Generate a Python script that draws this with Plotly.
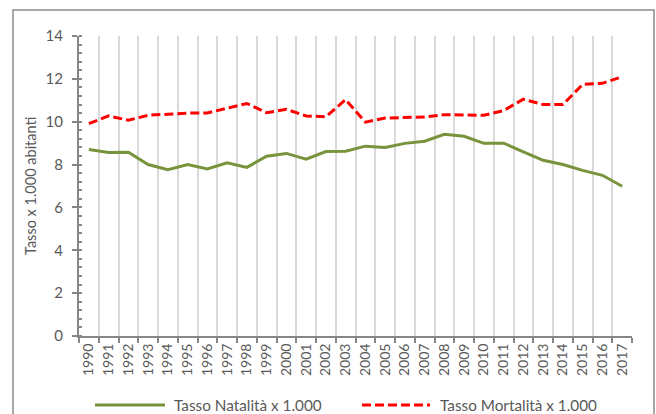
import plotly.graph_objects as go

years = [str(y) for y in range(1990, 2018)]
natalita = [8.70, 8.56, 8.58, 8.00, 7.76, 8.00, 7.80, 8.08, 7.87, 8.39, 8.52, 8.25, 8.61, 8.62,
            8.86, 8.80, 8.99, 9.09, 9.41, 9.32, 8.99, 9.00, 8.59, 8.20, 8.00, 7.73, 7.50, 6.99]
mortalita = [9.91, 10.27, 10.07, 10.30, 10.35, 10.40, 10.41, 10.62, 10.85, 10.42, 10.58, 10.27, 10.23, 11.03,
             9.98, 10.17, 10.19, 10.22, 10.33, 10.33, 10.30, 10.52, 11.05, 10.80, 10.80, 11.74, 11.79, 12.10]
y_ticks = [0, 2, 4, 6, 8, 10, 12, 14]

name_nat = "Tasso Natalità x 1.000"
name_mor = "Tasso Mortalità x 1.000"
GREEN = "#77933C"
RED = "#FF0000"
AXIS = "#868686"
TXT = "#595959"
FONT = "Lato"

fig = go.Figure()
fig.add_trace(go.Scatter(x=years, y=natalita, mode="lines", name=name_nat,
                         line=dict(color=GREEN, width=3), showlegend=False))
fig.add_trace(go.Scatter(x=years, y=mortalita, mode="lines", name=name_mor,
                         line=dict(color=RED, width=3, dash="9px,4px"), showlegend=False))

fig.update_layout(
    width=656, height=414,
    margin=dict(l=79, r=24, t=36, b=78),
    paper_bgcolor="white", plot_bgcolor="white",
    font=dict(family=FONT, size=14, color=TXT),
)
fig.update_xaxes(
    type="category", range=[-0.5, len(years) - 0.5], tickson="boundaries", automargin=False,
    showgrid=True, gridcolor="#D9D9D9", gridwidth=2,
    showline=True, linecolor=AXIS, linewidth=2,
    ticks="outside", ticklen=5, tickcolor=AXIS, tickwidth=2,
    tickangle=-90, tickfont=dict(family=FONT, size=14, color=TXT),
    zeroline=False,
)
fig.update_yaxes(
    range=[0, 14], tickvals=y_ticks, showgrid=False, zeroline=False, automargin=False,
    showline=True, linecolor=AXIS, linewidth=2,
    ticks="outside", ticklen=5, tickcolor=AXIS, tickwidth=2,
    ticklabelstandoff=6,
    tickfont=dict(family=FONT, size=15, color=TXT),
    minor=dict(dtick=0.4, ticks="inside", ticklen=3, tickcolor=AXIS, tickwidth=2, showgrid=False),
)

# y-axis title
fig.add_annotation(text="Tasso x 1.000 abitanti", xref="paper", yref="paper",
                   x=-0.0886, y=0.5, textangle=-90, showarrow=False,
                   font=dict(family=FONT, size=14.5, color=TXT), xanchor="center", yanchor="middle")

# outer chart border
fig.add_shape(type="rect", xref="paper", yref="paper", x0=-0.1193, x1=1.0398, y0=-0.30, y1=1.0867,
              line=dict(color="#8C8C8C", width=1.5), fillcolor="rgba(0,0,0,0)")

# manual legend
ly = -0.23
fig.add_shape(type="line", xref="paper", yref="paper", x0=0.0289, x1=0.1555, y0=ly, y1=ly,
              line=dict(color=GREEN, width=3))
fig.add_annotation(text=name_nat, xref="paper", yref="paper", x=0.168, y=ly,
                   xanchor="left", yanchor="middle", showarrow=False,
                   font=dict(family=FONT, size=15.3, color=TXT))
fig.add_shape(type="line", xref="paper", yref="paper", x0=0.5118, x1=0.6347, y0=ly, y1=ly,
              line=dict(color=RED, width=3, dash="9px,4px"))
fig.add_annotation(text=name_mor, xref="paper", yref="paper", x=0.649, y=ly,
                   xanchor="left", yanchor="middle", showarrow=False,
                   font=dict(family=FONT, size=15.3, color=TXT))

fig.write_html("out.html", post_script="document.body.style.margin='0';",
               config={"displayModeBar": False})
